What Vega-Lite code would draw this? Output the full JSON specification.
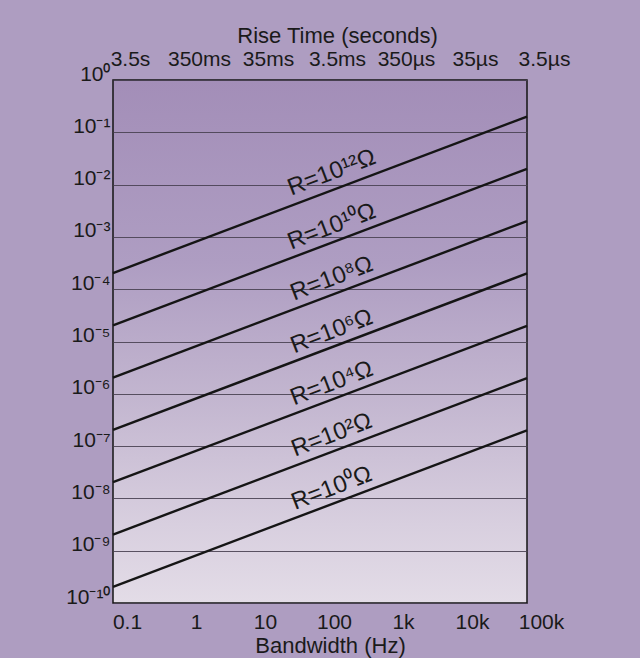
{
  "$schema": "https://vega.github.io/schema/vega-lite/v6.json",
  "width": 414,
  "height": 523,
  "autosize": "none",
  "padding": {"left": 113, "top": 80, "right": 113, "bottom": 55},
  "background": "#ae9dc1",
  "config": {
    "font": "Liberation Sans",
    "view": {
      "stroke": "#151515",
      "strokeWidth": 1.5,
      "fill": {
        "gradient": "linear", "x1": 0, "y1": 0, "x2": 0, "y2": 1,
        "stops": [
          {"offset": 0, "color": "#a38eb8"},
          {"offset": 0.35, "color": "#ae9dc2"},
          {"offset": 0.6, "color": "#c2b5cf"},
          {"offset": 0.85, "color": "#d8cfdf"},
          {"offset": 1, "color": "#e3dce7"}
        ]
      }
    },
    "axis": {
      "labelColor": "#1a1a1a",
      "titleColor": "#1a1a1a",
      "labelFont": "Liberation Sans",
      "titleFont": "Liberation Sans",
      "titleFontWeight": "normal",
      "labelOverlap": false,
      "labelFlush": false
    }
  },
  "datasets": {
    "lines": [
      {"k": 0, "B": 0.1, "V": 2.04e-10}, {"k": 0, "B": 100000, "V": 2.0e-7},
      {"k": 2, "B": 0.1, "V": 2.04e-9}, {"k": 2, "B": 100000, "V": 2.0e-6},
      {"k": 4, "B": 0.1, "V": 2.04e-8}, {"k": 4, "B": 100000, "V": 2.0e-5},
      {"k": 6, "B": 0.1, "V": 2.04e-7}, {"k": 6, "B": 100000, "V": 2.0e-4},
      {"k": 8, "B": 0.1, "V": 2.04e-6}, {"k": 8, "B": 100000, "V": 2.0e-3},
      {"k": 10, "B": 0.1, "V": 2.04e-5}, {"k": 10, "B": 100000, "V": 2.0e-2},
      {"k": 12, "B": 0.1, "V": 2.04e-4}, {"k": 12, "B": 100000, "V": 2.0e-1}
    ],
    "labels": [
      {"label": "R=10¹²Ω", "B": 148, "V": 1.68e-2},
      {"label": "R=10¹⁰Ω", "B": 148, "V": 1.57e-3},
      {"label": "R=10⁸Ω", "B": 148, "V": 1.58e-4},
      {"label": "R=10⁶Ω", "B": 148, "V": 1.55e-5},
      {"label": "R=10⁴Ω", "B": 148, "V": 1.58e-6},
      {"label": "R=10²Ω", "B": 148, "V": 1.62e-7},
      {"label": "R=10⁰Ω", "B": 148, "V": 1.55e-8}
    ]
  },
  "layer": [
    {
      "data": {"name": "lines"},
      "mark": {"type": "line", "color": "#151515", "strokeWidth": 2.4},
      "encoding": {
        "x": {
          "field": "B", "type": "quantitative",
          "scale": {"type": "log", "domain": [0.1, 100000]},
          "axis": {
            "orient": "bottom",
            "values": [0.1, 1, 10, 100, 1000, 10000, 100000],
            "labelExpr": "['0.1','1','10','100','1k','10k','100k'][round(log(datum.value)/LN10)+1]",
            "grid": false, "ticks": false, "domain": false,
            "labelFontSize": 21, "labelPadding": 8, "labelOffset": 14,
            "title": "Bandwidth (Hz)", "titleFontSize": 22, "titlePadding": 3, "titleX": 217
          }
        },
        "y": {
          "field": "V", "type": "quantitative",
          "scale": {"type": "log", "domain": [1e-10, 1]},
          "axis": {
            "values": [1, 0.1, 0.01, 0.001, 0.0001, 0.00001, 0.000001, 1e-7, 1e-8, 1e-9, 1e-10],
            "labelExpr": "['10⁰','10⁻¹','10⁻²','10⁻³','10⁻⁴','10⁻⁵','10⁻⁶','10⁻⁷','10⁻⁸','10⁻⁹','10⁻¹⁰'][-round(log(datum.value)/LN10)]",
            "grid": true, "gridColor": "#4a4252", "gridWidth": 0.9,
            "ticks": false, "domain": false,
            "labelFontSize": 21, "labelPadding": 3, "labelBaseline": "alphabetic",
            "title": null
          }
        },
        "detail": {"field": "k"}
      }
    },
    {
      "data": {"name": "labels"},
      "mark": {"type": "text", "angle": 339, "fontSize": 24, "color": "#1a1a1a", "align": "center", "baseline": "middle"},
      "encoding": {
        "x": {
          "field": "B", "type": "quantitative",
          "axis": {
            "orient": "top",
            "values": [0.1, 1, 10, 100, 1000, 10000, 100000],
            "labelExpr": "['3.5s','350ms','35ms','3.5ms','350µs','35µs','3.5µs'][round(log(datum.value)/LN10)+1]",
            "grid": false, "ticks": false, "domain": false,
            "labelFontSize": 21, "labelPadding": 11, "labelOffset": 17,
            "title": "Rise Time (seconds)", "titleFontSize": 22, "titlePadding": 1, "titleX": 224
          }
        },
        "y": {"field": "V", "type": "quantitative"},
        "text": {"field": "label"}
      }
    }
  ],
  "resolve": {"axis": {"x": "independent"}}
}
